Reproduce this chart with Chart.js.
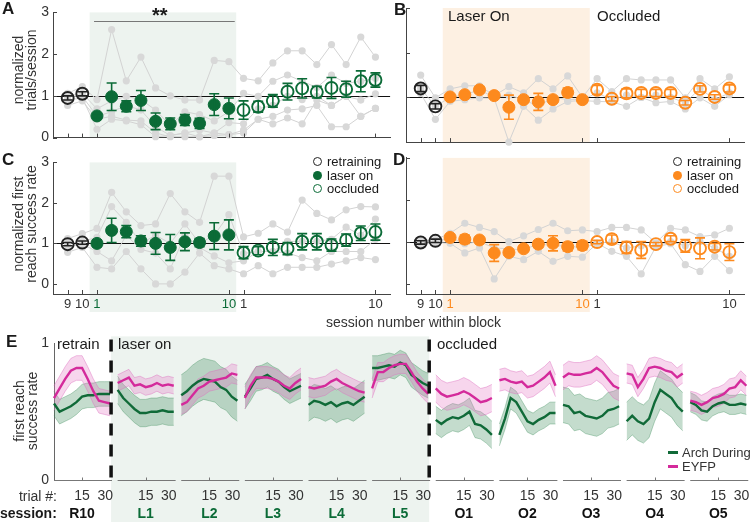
<!DOCTYPE html>
<html>
<head>
<meta charset="utf-8">
<script src="https://cdn.jsdelivr.net/npm/chart.js@4.4.0/dist/chart.umd.min.js"></script>
<style>
  body { margin:0; width:752px; height:522px; position:relative; overflow:hidden; background:#fff;
         font-family:"Liberation Sans", Arial, sans-serif; color:#1a1a1a; }
  canvas { position:absolute; }
  .t { position:absolute; white-space:nowrap; line-height:1; font-size:14px; }
  .b { font-weight:bold; }
  .rot { position:absolute; white-space:nowrap; text-align:center; font-size:14px; line-height:13px;
         transform:translate(-50%,-50%) rotate(-90deg); color:#333; }
  .dot { position:absolute; width:9px; height:9px; border-radius:50%; box-sizing:border-box; }
  .dash { position:absolute; width:10px; height:3px; }
</style>
</head>
<body>
<canvas id="cA" width="398" height="150" style="left:0;top:0"></canvas>
<canvas id="cB" width="354" height="150" style="left:398px;top:0"></canvas>
<canvas id="cC" width="398" height="180" style="left:0;top:150px"></canvas>
<canvas id="cD" width="354" height="180" style="left:398px;top:150px"></canvas>
<canvas id="cE" width="752" height="192" style="left:0;top:330px"></canvas>

<div class="t b" style="left:2px;top:0;font-size:17px">A</div>
<div class="t b" style="left:394px;top:1px;font-size:17px">B</div>
<div class="t b" style="left:2px;top:151px;font-size:17px">C</div>
<div class="t b" style="left:393px;top:151px;font-size:17px">D</div>
<div class="t b" style="left:6px;top:333px;font-size:17px">E</div>

<div class="rot" style="left:25px;top:70px">normalized<br>trials/session</div>
<div class="rot" style="left:25px;top:224px">normalized first<br>reach success rate</div>
<div class="rot" style="left:26px;top:411px">first reach<br>success rate</div>

<div class="t b" style="left:152px;top:5px;font-size:20px">**</div>
<div class="t" style="left:448px;top:8px;font-size:15px">Laser On</div>
<div class="t" style="left:597px;top:8px;font-size:15px">Occluded</div>

<div class="dot" style="left:313px;top:157px;border:1.8px solid #222"></div>
<div class="t" style="left:327px;top:155px;font-size:13px">retraining</div>
<div class="dot" style="left:313px;top:171px;background:#0b6b37"></div>
<div class="t" style="left:327px;top:169px;font-size:13px">laser on</div>
<div class="dot" style="left:313px;top:184px;border:1.8px solid #0b6b37"></div>
<div class="t" style="left:327px;top:182px;font-size:13px">occluded</div>

<div class="dot" style="left:673px;top:157px;border:1.8px solid #222"></div>
<div class="t" style="left:687px;top:155px;font-size:13px">retraining</div>
<div class="dot" style="left:673px;top:171px;background:#fd8a1e"></div>
<div class="t" style="left:687px;top:169px;font-size:13px">laser on</div>
<div class="dot" style="left:673px;top:184px;border:1.8px solid #fd8a1e"></div>
<div class="t" style="left:687px;top:182px;font-size:13px">occluded</div>

<div class="t" style="left:326px;top:315px;color:#333">session number within block</div>

<div class="t" style="left:57px;top:336px;font-size:15px">retrain</div>
<div class="t" style="left:118px;top:336px;font-size:15px">laser on</div>
<div class="t" style="left:437px;top:336px;font-size:15px">occluded</div>

<div class="dash" style="left:668px;top:451px;background:#106a38"></div>
<div class="t" style="left:682px;top:446px;font-size:13px;color:#333">Arch During</div>
<div class="dash" style="left:668px;top:465px;background:#d42a9b"></div>
<div class="t" style="left:682px;top:460px;font-size:13px;color:#333">EYFP</div>

<div class="t" style="right:695px;top:489px;color:#333">trial #:</div>
<div class="t b" style="left:0;top:506px">session:</div>

<script>
const FONT = '"Liberation Sans", Arial, sans-serif';
Chart.defaults.font.family = FONT;

// ---- panels A-D: session index 0-1 retraining (9,10), 2-11 laser (1-10), 12-21 occluded (1-10)
const blockTicks = [0, 1, 2, 11, 12, 21];
const blockLabels = ['9', '10', '1', '10', '1', '10'];

// A: normalized trials/session
const aRetrain = [0.95, 1.05];
const aRetrainErr = [0.05, 0.05];
const aLaser = [0.52, 0.98, 0.75, 0.89, 0.39, 0.33, 0.42, 0.34, 0.79, 0.70];
const aLaserErr = [0.05, 0.33, 0.13, 0.24, 0.20, 0.14, 0.13, 0.12, 0.26, 0.25];
const aOcc = [0.66, 0.74, 0.88, 1.10, 1.18, 1.09, 1.19, 1.16, 1.35, 1.38];
const aOccErr = [0.22, 0.13, 0.15, 0.20, 0.23, 0.14, 0.25, 0.19, 0.25, 0.17];
const aAnimals = [
  [1.06, 1.22, 0.91, 2.59, 1.36, 1.93, 1.19, 1.00, 0.90, 0.90, 1.85, 1.82, 1.42, 1.36, 1.79, 2.08, 2.08, 1.75, 2.23, 1.75, 2.41, 1.93],
  [0.99, 1.06, 0.69, 0.88, 0.99, 0.91, 0.66, 0.29, 0.62, 0.55, 0.40, 0.62, 1.06, 0.99, 1.35, 1.50, 1.35, 1.20, 1.50, 1.30, 1.35, 1.42],
  [0.99, 0.99, 0.51, 0.62, 0.77, 0.66, 0.26, 0.05, 0.11, 0.18, 0.11, 0.36, 0.33, 0.69, 0.77, 0.99, 0.91, 0.99, 0.77, 0.99, 0.90, 1.05],
  [0.77, 0.88, 0.44, 0.51, 0.42, 0.40, 0.11, 0.02, 0.02, 0.02, 0.05, 0.07, 0.18, 0.44, 0.51, 0.66, 0.69, 0.77, 0.26, 0.26, 0.51, 0.70],
  [0.90, 0.95, 0.20, 0.44, 0.40, 0.31, 0.02, 0.05, 0.11, 0.02, 0.11, 0.07, 0.11, 0.44, 0.33, 0.47, 0.33, 0.90, 0.77, 0.99, 0.51, 0.70]
];

// B: normalized trials/session (control)
const bRetrain = [1.20, 0.80];
const bRetrainErr = [0.07, 0.06];
const bLaser = [1.01, 1.06, 1.17, 1.04, 0.78, 0.95, 0.90, 0.95, 1.11, 0.95];
const bLaserErr = [0.04, 0.05, 0.05, 0.04, 0.27, 0.05, 0.19, 0.05, 0.10, 0.04];
const bOcc = [1.17, 0.97, 1.09, 1.10, 1.10, 1.10, 0.88, 1.19, 1.01, 1.20];
const bOccErr = [0.10, 0.05, 0.10, 0.08, 0.08, 0.08, 0.05, 0.07, 0.05, 0.08];
const bAnimals = [
  [1.50, 0.99, 1.19, 1.26, 1.26, 1.04, 1.24, 1.10, 1.42, 1.19, 1.48, 1.00, 1.42, 1.13, 1.42, 1.39, 1.39, 1.39, 0.99, 1.42, 1.19, 1.46],
  [1.20, 0.80, 1.00, 1.06, 1.17, 1.00, 1.05, 0.95, 0.80, 1.00, 0.95, 0.95, 1.10, 0.95, 1.05, 1.00, 1.05, 1.00, 0.88, 1.20, 0.95, 1.10],
  [1.09, 0.51, 0.91, 0.95, 0.99, 0.98, 0.00, 0.80, 0.49, 0.74, 0.91, 0.93, 0.91, 0.90, 0.80, 1.00, 0.88, 0.91, 0.74, 0.99, 0.80, 1.06]
];

// C: normalized first reach success rate
const cRetrain = [0.98, 1.02];
const cRetrainErr = [0.04, 0.04];
const cLaser = [1.00, 1.32, 1.29, 1.06, 1.00, 0.90, 1.04, 1.02, 1.18, 1.21];
const cLaserErr = [0.08, 0.30, 0.15, 0.13, 0.27, 0.32, 0.22, 0.10, 0.33, 0.37];
const cOcc = [0.77, 0.82, 0.90, 0.87, 1.04, 1.04, 0.96, 1.08, 1.25, 1.28];
const cOccErr = [0.15, 0.10, 0.20, 0.15, 0.20, 0.20, 0.15, 0.15, 0.18, 0.20];
const cAnimals = [
  [1.12, 1.24, 1.37, 2.26, 1.78, 1.44, 1.48, 2.23, 1.78, 1.52, 2.66, 2.66, 1.16, 1.25, 1.48, 1.28, 2.07, 1.74, 1.58, 1.83, 1.91, 1.90],
  [1.00, 1.05, 1.15, 1.91, 1.52, 1.00, 1.20, 1.00, 1.48, 1.00, 1.20, 1.71, 0.75, 0.80, 0.80, 1.05, 1.05, 1.05, 1.10, 1.40, 1.20, 1.60],
  [0.92, 0.98, 0.80, 0.57, 1.20, 0.85, 0.76, 0.37, 1.20, 0.90, 0.69, 0.52, 0.57, 0.80, 0.80, 0.76, 0.65, 0.57, 0.80, 0.80, 0.80, 1.10],
  [0.78, 0.90, 0.41, 0.37, 0.80, 0.37, 0.00, 0.00, 0.29, 0.76, 0.45, 0.37, 0.25, 0.45, 0.25, 0.41, 0.41, 0.41, 0.49, 0.57, 0.65, 0.60]
];

// D: normalized first reach success rate (control)
const dRetrain = [0.98, 1.02];
const dRetrainErr = [0.04, 0.04];
const dLaser = [1.10, 1.06, 1.04, 0.73, 0.74, 0.83, 0.94, 0.96, 0.88, 0.91];
const dLaserErr = [0.05, 0.10, 0.05, 0.20, 0.05, 0.06, 0.08, 0.18, 0.10, 0.10];
const dOcc = [0.99, 1.06, 0.86, 0.80, 0.94, 1.07, 0.90, 0.84, 0.88, 0.75];
const dOccErr = [0.04, 0.10, 0.14, 0.20, 0.04, 0.07, 0.15, 0.25, 0.08, 0.20];
const dAnimals = [
  [1.02, 1.05, 1.20, 1.44, 1.34, 1.24, 1.00, 1.14, 1.29, 1.44, 1.26, 1.28, 1.24, 1.34, 1.34, 1.28, 0.97, 1.32, 1.28, 1.12, 1.16, 1.32],
  [0.98, 1.00, 1.10, 0.95, 1.00, 0.85, 0.83, 0.80, 0.95, 0.90, 0.90, 0.85, 0.96, 1.00, 0.85, 0.90, 0.90, 1.00, 0.90, 1.00, 0.85, 0.65],
  [0.94, 0.98, 0.96, 0.73, 0.85, 0.11, 0.65, 0.57, 0.77, 0.53, 0.65, 0.63, 0.96, 0.77, 0.65, 0.23, 0.88, 0.95, 0.45, 0.29, 0.65, 0.31]
];

// E: first reach success rate within session, sampled every 3 trials
const sessionNames = ['R10', 'L1', 'L2', 'L3', 'L4', 'L5', 'O1', 'O2', 'O3', 'O4', 'O5'];
const trialSteps = [0, 3, 6, 9, 12, 15, 18, 21, 24, 27, 30];
const trialTicks = ['15', '30'];
const archMean = [
  [0.56, 0.50, 0.52, 0.54, 0.57, 0.61, 0.62, 0.62, 0.63, 0.63, 0.63],
  [0.66, 0.60, 0.56, 0.52, 0.49, 0.49, 0.50, 0.50, 0.51, 0.50, 0.50],
  [0.62, 0.65, 0.69, 0.72, 0.74, 0.73, 0.72, 0.68, 0.66, 0.61, 0.58],
  [0.61, 0.67, 0.74, 0.75, 0.77, 0.74, 0.72, 0.68, 0.65, 0.67, 0.69],
  [0.55, 0.58, 0.57, 0.55, 0.57, 0.54, 0.56, 0.57, 0.55, 0.58, 0.61],
  [0.82, 0.82, 0.83, 0.84, 0.83, 0.86, 0.84, 0.77, 0.74, 0.71, 0.69],
  [0.44, 0.41, 0.44, 0.46, 0.45, 0.47, 0.50, 0.41, 0.40, 0.37, 0.33],
  [0.33, 0.45, 0.60, 0.57, 0.50, 0.43, 0.41, 0.44, 0.46, 0.49, 0.49],
  [0.55, 0.54, 0.49, 0.50, 0.47, 0.46, 0.45, 0.47, 0.51, 0.52, 0.54],
  [0.43, 0.47, 0.43, 0.41, 0.45, 0.57, 0.66, 0.63, 0.60, 0.54, 0.50],
  [0.57, 0.55, 0.51, 0.50, 0.54, 0.56, 0.57, 0.55, 0.55, 0.56, 0.55]
];
const eyfpMean = [
  [0.60, 0.67, 0.74, 0.80, 0.82, 0.82, 0.74, 0.65, 0.58, 0.57, 0.56],
  [0.71, 0.73, 0.75, 0.69, 0.70, 0.68, 0.69, 0.71, 0.69, 0.70, 0.69],
  [0.55, 0.57, 0.62, 0.67, 0.69, 0.72, 0.73, 0.74, 0.75, 0.78, 0.77],
  [0.60, 0.69, 0.75, 0.75, 0.75, 0.74, 0.72, 0.69, 0.67, 0.71, 0.74],
  [0.68, 0.67, 0.68, 0.69, 0.72, 0.74, 0.71, 0.69, 0.67, 0.65, 0.64],
  [0.67, 0.79, 0.79, 0.82, 0.84, 0.85, 0.85, 0.79, 0.72, 0.67, 0.63],
  [0.67, 0.63, 0.61, 0.62, 0.63, 0.65, 0.63, 0.60, 0.57, 0.58, 0.60],
  [0.73, 0.74, 0.72, 0.71, 0.72, 0.68, 0.69, 0.72, 0.75, 0.79, 0.69],
  [0.75, 0.78, 0.77, 0.77, 0.78, 0.79, 0.82, 0.79, 0.74, 0.69, 0.67],
  [0.78, 0.77, 0.68, 0.74, 0.82, 0.83, 0.82, 0.80, 0.79, 0.75, 0.78],
  [0.58, 0.57, 0.55, 0.57, 0.60, 0.61, 0.63, 0.67, 0.68, 0.73, 0.69]
];
const archSem = [0.09, 0.10, 0.15, 0.09, 0.12, 0.09, 0.10, 0.08, 0.13, 0.14, 0.07];
const eyfpSem = [0.09, 0.06, 0.07, 0.08, 0.07, 0.07, 0.10, 0.08, 0.09, 0.07, 0.07];

const GREEN = '#0b6b37', ORANGE = '#fd8a1e', MAGENTA = '#d42a9b', ARCH = '#106a38';
const GREEN_BG = '#edf3ef', ORANGE_BG = '#fdf0e2';

// shading, reference line at 1, error bars, inward ticks
const deco = {
  id: 'deco',
  beforeDraw(chart, args, o) {
    const { ctx, chartArea: a, scales: { x } } = chart;
    const x0 = x.getPixelForValue(1.5), x1 = x.getPixelForValue(11.5);
    ctx.save();
    ctx.fillStyle = o.shade;
    ctx.fillRect(x0, a.top, x1 - x0, a.bottom - a.top + o.shadeExtra);
    ctx.restore();
  },
  beforeDatasetsDraw(chart, args, o) {
    const { ctx, chartArea: a, scales: { x, y } } = chart;
    ctx.save();
    ctx.strokeStyle = '#111';
    ctx.lineWidth = 1.2;
    const y1 = Math.round(y.getPixelForValue(1)) + 0.5;
    ctx.beginPath(); ctx.moveTo(a.left, y1); ctx.lineTo(a.right, y1); ctx.stroke();
    if (o.sig) {
      const ys = Math.round(y.getPixelForValue(2.8)) + 0.5;
      ctx.strokeStyle = '#777'; ctx.lineWidth = 1;
      ctx.beginPath(); ctx.moveTo(x.getPixelForValue(1.8), ys); ctx.lineTo(x.getPixelForValue(11.4), ys); ctx.stroke();
    }
    ctx.restore();
  },
  afterDatasetsDraw(chart) {
    const { ctx, scales: { y } } = chart;
    ctx.save();
    chart.data.datasets.forEach((ds, di) => {
      if (!ds.errs) return;
      const meta = chart.getDatasetMeta(di);
      ctx.strokeStyle = ds.borderColor;
      ctx.lineWidth = 1.6;
      meta.data.forEach((pt, i) => {
        const v = ds.data[i].y, e = ds.errs[i];
        const yt = y.getPixelForValue(v + e), yb = y.getPixelForValue(v - e);
        ctx.beginPath();
        ctx.moveTo(pt.x, yt); ctx.lineTo(pt.x, yb);
        ctx.moveTo(pt.x - 5, yt); ctx.lineTo(pt.x + 5, yt);
        ctx.moveTo(pt.x - 5, yb); ctx.lineTo(pt.x + 5, yb);
        ctx.stroke();
      });
    });
    ctx.restore();
  },
  afterDraw(chart) {
    const { ctx, chartArea: a, scales: { x, y } } = chart;
    ctx.save();
    ctx.strokeStyle = '#444';
    ctx.lineWidth = 1;
    ctx.beginPath();
    y.ticks.forEach(t => {
      const p = Math.round(y.getPixelForValue(t.value)) + 0.5;
      ctx.moveTo(a.left, p); ctx.lineTo(a.left + 4, p);
    });
    x.ticks.forEach(t => {
      const p = Math.round(x.getPixelForValue(t.value)) + 0.5;
      ctx.moveTo(p, a.bottom); ctx.lineTo(p, a.bottom - 4);
    });
    ctx.stroke();
    ctx.restore();
  }
};

function dotChart(id, cfg) {
  const groups = [
    { vals: cfg.retrain, errs: cfg.retrainErr, start: 0, color: '#222', filled: false },
    { vals: cfg.laser, errs: cfg.laserErr, start: 2, color: cfg.color, filled: true },
    { vals: cfg.occ, errs: cfg.occErr, start: 12, color: cfg.color, filled: false }
  ];
  const datasets = groups.map(g => ({
    data: g.vals.map((v, i) => ({ x: g.start + i, y: v })),
    errs: g.errs,
    showLine: false,
    pointRadius: 6,
    pointBorderWidth: g.filled ? 1 : 1.9,
    pointBackgroundColor: g.filled ? g.color : 'rgba(255,255,255,0)',
    pointBorderColor: g.color,
    borderColor: g.color,
    clip: false
  }));
  cfg.animals.forEach(a => datasets.push({
    data: a.map((v, i) => ({ x: i, y: v })),
    borderColor: '#d3d3d3',
    borderWidth: 1,
    pointRadius: 3.6,
    pointBorderWidth: 0,
    pointBackgroundColor: '#d8d8d8',
    clip: false
  }));
  return new Chart(document.getElementById(id), {
    type: 'line',
    data: { datasets },
    options: {
      responsive: false,
      animation: false,
      events: [],
      layout: { padding: { top: cfg.padTop, right: cfg.padRight, left: 0, bottom: 0 } },
      scales: {
        x: {
          type: 'linear', min: -1, max: 22,
          afterBuildTicks: s => { s.ticks = blockTicks.map(v => ({ value: v })); },
          afterFit: s => { s.height = cfg.xHeight; },
          grid: { display: false, drawTicks: false },
          border: { color: '#444', width: 1 },
          ticks: {
            display: cfg.xLabels, autoSkip: false, maxRotation: 0, padding: 3,
            font: { size: 13 },
            color: c => (c.tick && (c.tick.value === 2 || c.tick.value === 11)) ? cfg.color : '#333',
            callback: v => blockLabels[blockTicks.indexOf(v)]
          }
        },
        y: {
          min: cfg.ymin, max: 3,
          afterBuildTicks: s => { s.ticks = [0, 1, 2, 3].map(v => ({ value: v })); },
          afterFit: s => { s.width = cfg.yWidth; },
          grid: { display: false, drawTicks: false },
          border: { color: '#444', width: 1 },
          ticks: { display: cfg.yLabels, padding: 4, font: { size: 14 }, color: '#333' }
        }
      },
      plugins: {
        legend: { display: false },
        tooltip: { enabled: false },
        deco: { shade: cfg.shade, shadeExtra: cfg.shadeExtra, sig: cfg.sig }
      }
    },
    plugins: [deco]
  });
}

dotChart('cA', { retrain: aRetrain, retrainErr: aRetrainErr, laser: aLaser, laserErr: aLaserErr, occ: aOcc, occErr: aOccErr,
  animals: aAnimals, color: GREEN, shade: GREEN_BG, shadeExtra: 0, sig: true,
  ymin: 0, padTop: 8, padRight: 3, xHeight: 5, xLabels: false, yWidth: 53, yLabels: true });
dotChart('cB', { retrain: bRetrain, retrainErr: bRetrainErr, laser: bLaser, laserErr: bLaserErr, occ: bOcc, occErr: bOccErr,
  animals: bAnimals, color: ORANGE, shade: ORANGE_BG, shadeExtra: 0, sig: false,
  ymin: 0, padTop: 8, padRight: 2, xHeight: 5, xLabels: false, yWidth: 8, yLabels: false });
dotChart('cC', { retrain: cRetrain, retrainErr: cRetrainErr, laser: cLaser, laserErr: cLaserErr, occ: cOcc, occErr: cOccErr,
  animals: cAnimals, color: GREEN, shade: GREEN_BG, shadeExtra: 18, sig: false,
  ymin: -0.25, padTop: 7, padRight: 3, xHeight: 36, xLabels: true, yWidth: 53, yLabels: true });
dotChart('cD', { retrain: dRetrain, retrainErr: dRetrainErr, laser: dLaser, laserErr: dLaserErr, occ: dOcc, occErr: dOccErr,
  animals: dAnimals, color: ORANGE, shade: ORANGE_BG, shadeExtra: 18, sig: false,
  ymin: -0.25, padTop: 7, padRight: 2, xHeight: 36, xLabels: true, yWidth: 8, yLabels: false });

// ---- panel E
const G = 34; // x units per session (30 trials + gap)
function trace(means, sem, sign) {
  const pts = [];
  means.forEach((sess, k) => {
    sess.forEach((v, j) => pts.push({ x: k * G + trialSteps[j], y: v + sign * sem[k] }));
    pts.push({ x: k * G + 32, y: null });
  });
  return pts;
}
const lineOpts = { pointRadius: 0, tension: 0, spanGaps: false, clip: false };

const eDeco = {
  id: 'eDeco',
  beforeDraw(chart) {
    const { ctx, chartArea: a, scales: { x } } = chart;
    const x0 = x.getPixelForValue(G - 3.5), x1 = x.getPixelForValue(6 * G - 3.5);
    ctx.save();
    ctx.fillStyle = GREEN_BG;
    ctx.fillRect(x0, a.top - 7, x1 - x0, chart.height - a.top + 7);
    ctx.restore();
  },
  afterDatasetsDraw(chart) {
    const { ctx, chartArea: a, scales: { x } } = chart;
    ctx.save();
    ctx.strokeStyle = '#111';
    ctx.lineWidth = 3.5;
    ctx.setLineDash([12, 9]);
    [G - 3.5, 6 * G - 3.5].forEach(v => {
      const p = x.getPixelForValue(v);
      ctx.beginPath(); ctx.moveTo(p, a.top - 4); ctx.lineTo(p, a.bottom); ctx.stroke();
    });
    ctx.restore();
  },
  afterDraw(chart) {
    const { ctx, chartArea: a, scales: { x } } = chart;
    const yb = Math.round(a.bottom) + 0.5;
    ctx.save();
    ctx.strokeStyle = '#777';
    ctx.lineWidth = 1;
    ctx.textBaseline = 'middle';
    sessionNames.forEach((name, k) => {
      const xs = k === 0 ? a.left : x.getPixelForValue(k * G);
      const xe = x.getPixelForValue(k * G + 31);
      const x15 = x.getPixelForValue(k * G + 15);
      ctx.beginPath();
      ctx.moveTo(xs, yb); ctx.lineTo(xe, yb);
      ctx.moveTo(Math.round(x15) + 0.5, yb); ctx.lineTo(Math.round(x15) + 0.5, yb - 3);
      ctx.stroke();
      ctx.fillStyle = '#333';
      ctx.font = '14px ' + FONT;
      ctx.textAlign = 'center';
      ctx.fillText(trialTicks[0], x15, a.bottom + 16);
      ctx.textAlign = 'right';
      ctx.fillText(trialTicks[1], xe + 1, a.bottom + 16);
      ctx.textAlign = 'center';
      ctx.font = 'bold 14px ' + FONT;
      ctx.fillStyle = (k >= 1 && k <= 5) ? GREEN : '#111';
      ctx.fillText(name, x15, a.bottom + 34);
    });
    ctx.restore();
  }
};

new Chart(document.getElementById('cE'), {
  type: 'line',
  data: {
    datasets: [
      Object.assign({ data: trace(eyfpMean, eyfpSem, 0), borderColor: MAGENTA, borderWidth: 2.4 }, lineOpts),
      Object.assign({ data: trace(archMean, archSem, 0), borderColor: ARCH, borderWidth: 2.4 }, lineOpts),
      Object.assign({ data: trace(eyfpMean, eyfpSem, 1), borderColor: 'rgba(220,110,190,0.55)', borderWidth: 0.8, fill: false }, lineOpts),
      Object.assign({ data: trace(eyfpMean, eyfpSem, -1), borderColor: 'rgba(220,110,190,0.55)', borderWidth: 0.8, fill: '-1', backgroundColor: 'rgba(228,120,196,0.30)' }, lineOpts),
      Object.assign({ data: trace(archMean, archSem, 1), borderColor: 'rgba(60,140,90,0.45)', borderWidth: 0.8, fill: false }, lineOpts),
      Object.assign({ data: trace(archMean, archSem, -1), borderColor: 'rgba(60,140,90,0.45)', borderWidth: 0.8, fill: '-1', backgroundColor: 'rgba(60,140,90,0.30)' }, lineOpts)
    ]
  },
  options: {
    responsive: false,
    animation: false,
    events: [],
    layout: { padding: { top: 13, bottom: 42, left: 0, right: 0 } },
    scales: {
      x: { type: 'linear', min: 0, max: 373, display: false },
      y: {
        min: 0, max: 1,
        afterBuildTicks: s => { s.ticks = [0, 1].map(v => ({ value: v })); },
        afterFit: s => { s.width = 54; },
        grid: { display: false, drawTicks: false },
        border: { color: '#666', width: 1 },
        ticks: { padding: 5, font: { size: 14 }, color: '#333' }
      }
    },
    plugins: { legend: { display: false }, tooltip: { enabled: false } }
  },
  plugins: [eDeco]
});
</script>
</body>
</html>
